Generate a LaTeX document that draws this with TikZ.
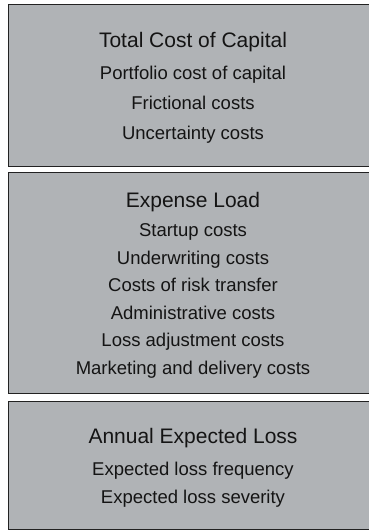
\documentclass[tikz,border=0pt]{standalone}
\usepackage{fontspec}
\setmainfont{Liberation Sans}
\definecolor{boxfill}{RGB}{176,179,182}
\definecolor{boxline}{RGB}{34,34,34}
\definecolor{txt}{RGB}{20,20,20}
\begin{document}
\begin{tikzpicture}[x=1pt,y=-1pt,
  panel/.style={draw=boxline, line width=1.3pt, fill=boxfill},
  ttl/.style={anchor=base, inner sep=0pt, text=txt, font=\fontsize{21}{25}\selectfont},
  itm/.style={anchor=base, inner sep=0pt, text=txt, font=\fontsize{18.5}{22}\selectfont}]
\useasboundingbox (0,0) rectangle (369,530);
\begin{scope}
\clip (0,0) rectangle (369,530);
\node[panel, minimum width=370pt, minimum height=162pt, anchor=north west, inner sep=0pt] (b1) at (8,4) {};
\node[panel, minimum width=370pt, minimum height=221pt, anchor=north west, inner sep=0pt] (b2) at (8,172) {};
\node[panel, minimum width=370pt, minimum height=128pt, anchor=north west, inner sep=0pt] (b3) at (8,401) {};
\end{scope}
% Box 1
\node[ttl] (t1) at (193,47) {Total Cost of Capital};
\node[itm] (t1a) at (193,79) {Portfolio cost of capital};
\node[itm] (t1b) at (193,109) {Frictional costs};
\node[itm] (t1c) at (193,139) {Uncertainty costs};
% Box 2
\node[ttl] (t2) at (193,207) {Expense Load};
\node[itm] (t2a) at (193,236.5) {Startup costs};
\node[itm] (t2b) at (193,264) {Underwriting costs};
\node[itm] (t2c) at (193,291.5) {Costs of risk transfer};
\node[itm] (t2d) at (193,319) {Administrative costs};
\node[itm] (t2e) at (193,346.5) {Loss adjustment costs};
\node[itm] (t2f) at (193,374) {Marketing and delivery costs};
% Box 3
\node[ttl] (t3) at (193,443) {Annual Expected Loss};
\node[itm] (t3a) at (193,475) {Expected loss frequency};
\node[itm] (t3b) at (193,503) {Expected loss severity};
\end{tikzpicture}
\end{document}
